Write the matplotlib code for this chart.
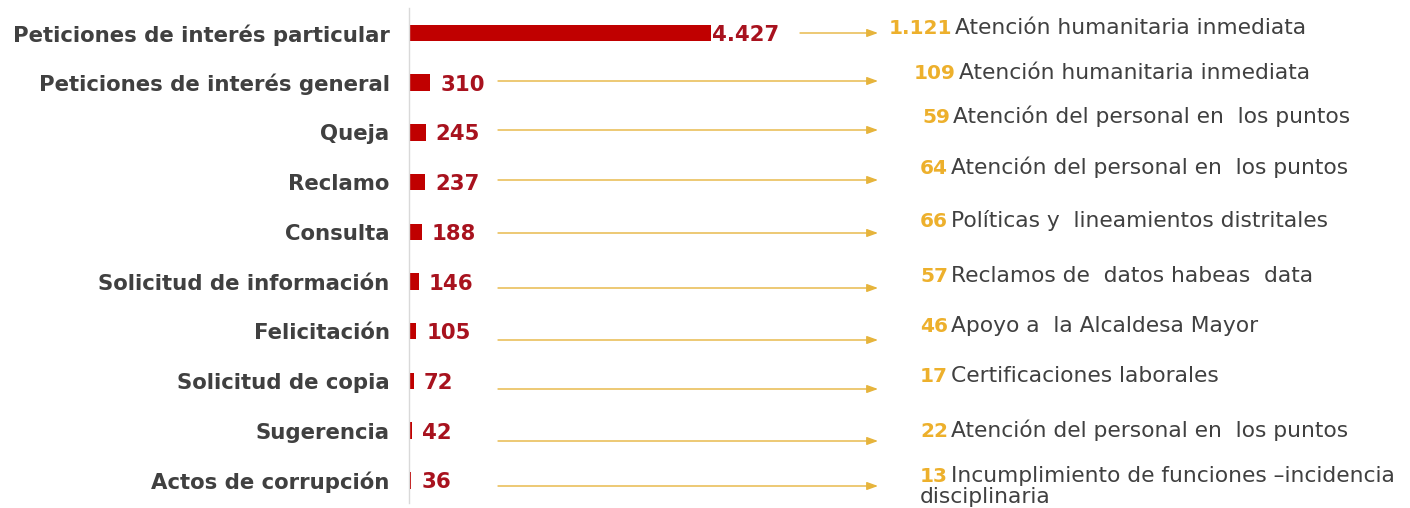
import matplotlib
matplotlib.use('Agg')
import matplotlib.pyplot as plt

# ---------------- data ----------------
categories = ['Peticiones de interés particular', 'Peticiones de interés general', 'Queja',
              'Reclamo', 'Consulta', 'Solicitud de información', 'Felicitación',
              'Solicitud de copia', 'Sugerencia', 'Actos de corrupción']
values = [4427, 310, 245, 237, 188, 146, 105, 72, 42, 36]
value_labels = ['4.427', '310', '245', '237', '188', '146', '105', '72', '42', '36']
top_counts = ['1.121', '109', '59', '64', '66', '57', '46', '17', '22', '13']
top_topics = ['Atención humanitaria inmediata', 'Atención humanitaria inmediata',
              'Atención del personal en  los puntos', 'Atención del personal en  los puntos',
              'Políticas y  lineamientos distritales', 'Reclamos de  datos habeas  data',
              'Apoyo a  la Alcaldesa Mayor', 'Certificaciones laborales',
              'Atención del personal en  los puntos',
              'Incumplimiento de funciones –incidencia']
extra_line = 'disciplinaria'

# ---------------- layout ----------------
W, H = 1410, 508
AX_LEFT = 409
PX_PER_UNIT = 302 / 4427
ROW0, ROW_H = 33, 49.7
arrow_y_px = [33, 81, 130, 180, 233, 288, 340, 389, 441, 486]
arrow_x0_px = [800] + [498] * 9
arrow_x1_px = 878
num_x_px = [889, 914, 922, 920, 920, 920, 920, 920, 920, 920]
text_base_px = [34, 79, 123, 174, 227, 282, 332, 382, 437, 482]
extra_base_px = 503

RED = '#C00000'
DARKRED = '#A8121E'
GOLD = '#EDB02C'
ARROW = '#E6B43C'
GRAY = '#404040'

fig = plt.figure(figsize=(W / 100, H / 100), dpi=100)
ax = fig.add_axes([AX_LEFT / W, 0, 1 - AX_LEFT / W, 1])
ax.set_xlim(0, (W - AX_LEFT) / PX_PER_UNIT)
ax.set_ylim((H - ROW0) / ROW_H, -ROW0 / ROW_H)

ypos = list(range(len(categories)))
ax.barh(ypos, values, height=16.5 / ROW_H, color=RED)

ax.set_yticks(ypos)
ax.set_yticklabels(categories, fontsize=15.3, fontweight='bold', color=GRAY,
                   family='DejaVu Sans')
ax.tick_params(axis='y', length=0, pad=14)
ax.tick_params(axis='x', bottom=False, labelbottom=False)
for s in ['top', 'right', 'bottom']:
    ax.spines[s].set_visible(False)
ax.spines['left'].set_color('#D9D9D9')
ax.spines['left'].set_linewidth(1)
ax.spines['left'].set_bounds((8 - ROW0) / ROW_H, (503 - ROW0) / ROW_H)

for i, (v, lab) in enumerate(zip(values, value_labels)):
    off = 1 if i == 0 else 10
    ax.annotate(lab, xy=(v, i), xytext=(off * 0.72, 0), textcoords='offset points',
                va='center_baseline', ha='left', fontsize=15.3, fontweight='bold',
                color=DARKRED, family='DejaVu Sans')


def px2x(px):
    return (px - AX_LEFT) / PX_PER_UNIT


def px2y(py):
    return (py - ROW0) / ROW_H


for i in range(len(categories)):
    yd = px2y(arrow_y_px[i])
    ax.annotate('', xy=(px2x(arrow_x1_px), yd), xytext=(px2x(arrow_x0_px[i]), yd),
                arrowprops=dict(arrowstyle='-|>,head_length=0.55,head_width=0.2',
                                color=ARROW, lw=1.0, shrinkA=0, shrinkB=0,
                                mutation_scale=12),
                annotation_clip=False)

for i in range(len(categories)):
    t = ax.annotate(top_counts[i], xy=(num_x_px[i], H - text_base_px[i]),
                    xycoords='figure pixels', va='baseline', ha='left',
                    fontsize=14.5, fontweight='bold', color=GOLD, family='DejaVu Sans',
                    annotation_clip=False)
    ax.annotate(top_topics[i], xy=(1, H - text_base_px[i]), xycoords=(t, 'figure pixels'),
                xytext=(2, 0), textcoords='offset points', va='baseline', ha='left',
                fontsize=15.7, color=GRAY, family='DejaVu Sans', annotation_clip=False)

ax.annotate(extra_line, xy=(num_x_px[-1], H - extra_base_px), xycoords='figure pixels',
            va='baseline', ha='left', fontsize=15.7, color=GRAY, family='DejaVu Sans',
            annotation_clip=False)

fig.savefig('out.png', dpi=100)
